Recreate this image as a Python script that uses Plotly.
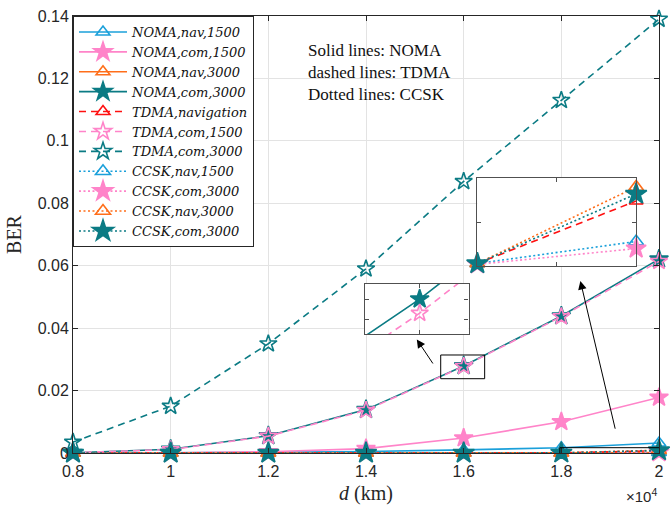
import plotly.graph_objects as go

# distance samples (km) and the axis scale factor shown as x10^4
d_km = [8000, 10000, 12000, 14000, 16000, 18000, 20000]
x_scale = 1e4
x_ticks = [0.8, 1.0, 1.2, 1.4, 1.6, 1.8, 2.0]
x_ticktext = ["0.8", "1", "1.2", "1.4", "1.6", "1.8", "2"]
y_ticks = [0, 0.02, 0.04, 0.06, 0.08, 0.1, 0.12, 0.14]
y_ticktext = ["0", "0.02", "0.04", "0.06", "0.08", "0.1", "0.12", "0.14"]

# BER per scheme
noma_nav_1500 = [0.0, 0.0001, 0.0002, 0.0005, 0.0010, 0.0017, 0.0032]
noma_com_1500 = [0.0, 0.0001, 0.0004, 0.0014, 0.0048, 0.0100, 0.0178]
noma_nav_3000 = [0.0, 0.0, 0.0, 0.00002, 0.00004, 0.00008, 0.00015]
noma_com_3000 = [0.0001, 0.0012, 0.0055, 0.0139, 0.0279, 0.0439, 0.0621]
tdma_nav = [0.0, 0.0, 0.0, 0.0, 0.00001, 0.00003, 0.00074]
tdma_com_1500 = [0.0001, 0.0011, 0.0054, 0.0137, 0.02776, 0.0437, 0.0614]
tdma_com_3000 = [0.0035, 0.0150, 0.0350, 0.0590, 0.0870, 0.1130, 0.1390]
ccsk_nav_1500 = [0.0, 0.0, 0.0, 0.0, 0.00001, 0.00003, 0.00028]
ccsk_com_1500 = [0.0, 0.0, 0.0, 0.0, 0.00001, 0.00002, 0.00020]
ccsk_nav_3000 = [0.0, 0.0, 0.0, 0.0, 0.00001, 0.00003, 0.00090]
ccsk_com_3000 = [0.0, 0.0, 0.0, 0.0, 0.00001, 0.00003, 0.00082]

x = [v / x_scale for v in d_km]

BLUE = "#1ba0da"
PINK = "#ff84c9"
ORANGE = "#ff6e1a"
TEAL = "#0b7b84"
RED = "#ff1010"

DASH = "7px,5px"
DOT = "2px,2.5px"

# key, legend label, values, colour, dash, symbol, marker size
series = [
    ("noma_nav_1500", "NOMA,nav,1500", noma_nav_1500, BLUE, "solid", "triangle-up-open", 12),
    ("noma_com_1500", "NOMA,com,1500", noma_com_1500, PINK, "solid", "star", 14),
    ("noma_nav_3000", "NOMA,nav,3000", noma_nav_3000, ORANGE, "solid", "triangle-up-open", 12),
    ("noma_com_3000", "NOMA,com,3000", noma_com_3000, TEAL, "solid", "star", 14),
    ("tdma_nav", "TDMA,navigation", tdma_nav, RED, DASH, "triangle-up-open", 12),
    ("tdma_com_1500", "TDMA,com,1500", tdma_com_1500, PINK, DASH, "star-open", 13),
    ("tdma_com_3000", "TDMA,com,3000", tdma_com_3000, TEAL, DASH, "star-open", 13),
    ("ccsk_nav_1500", "CCSK,nav,1500", ccsk_nav_1500, BLUE, DOT, "triangle-up-open", 13),
    ("ccsk_com_1500", "CCSK,com,3000", ccsk_com_1500, PINK, DOT, "star", 15),
    ("ccsk_nav_3000", "CCSK,nav,3000", ccsk_nav_3000, ORANGE, DOT, "triangle-up-open", 13),
    ("ccsk_com_3000", "CCSK,com,3000", ccsk_com_3000, TEAL, DOT, "star", 16),
]

# which series appear in each magnified view
inset_nav_keys = ["tdma_nav", "ccsk_nav_1500", "ccsk_com_1500", "ccsk_nav_3000", "ccsk_com_3000"]
inset_com_keys = ["noma_com_3000", "tdma_com_1500"]

fig = go.Figure()


def add_series(label, vals, color, dash, symbol, size, xa="x", ya="y", legend=True):
    fig.add_trace(go.Scatter(
        x=x, y=vals, mode="lines+markers",
        name="<i>" + label + "</i>",
        xaxis=xa, yaxis=ya, showlegend=legend, cliponaxis=False,
        line=dict(color=color, width=1.6, dash=dash, simplify=False),
        marker=dict(symbol=symbol, size=size, color=color,
                    line=dict(color=color, width=1.6)),
        hoverinfo="skip",
    ))


for key, *spec in series:
    add_series(*spec)
for key, *spec in series:
    if key in inset_nav_keys:
        add_series(*spec, xa="x2", ya="y2", legend=False)
for key, *spec in series:
    if key in inset_com_keys:
        add_series(*spec, xa="x3", ya="y3", legend=False)

AX = "#262626"
FRAME = "#505050"
tick_font = dict(family="Liberation Sans, Arial, sans-serif", size=16, color=AX)
inset_axis = dict(showticklabels=False, ticks="inside", ticklen=4, tickcolor=FRAME,
                  showline=True, linecolor=FRAME, linewidth=1.3, mirror="ticks",
                  showgrid=False, zeroline=False)

fig.update_layout(
    width=672, height=508,
    margin=dict(l=73, r=8, t=14, b=52),
    paper_bgcolor="white", plot_bgcolor="white",
    font=dict(family="Liberation Sans, Arial, sans-serif", color=AX),
    xaxis=dict(
        range=[0.8, 2.0], tickvals=x_ticks, ticktext=x_ticktext,
        ticks="inside", ticklen=5, tickcolor=AX, showline=True, linecolor=AX,
        linewidth=1, mirror="ticks", showgrid=True, gridcolor="#e3e3e3",
        zeroline=False, tickfont=tick_font, ticklabelstandoff=4,
        title=dict(text="<i>d</i> (km)", standoff=6,
                   font=dict(family="Liberation Serif, Times New Roman, serif", size=20, color=AX)),
    ),
    yaxis=dict(
        range=[0, 0.14], tickvals=y_ticks, ticktext=y_ticktext,
        ticks="inside", ticklen=5, tickcolor=AX, showline=True, linecolor=AX,
        linewidth=1, mirror="ticks", showgrid=True, gridcolor="#e3e3e3",
        zeroline=False, tickfont=tick_font,
        title=dict(text="BER", standoff=10,
                   font=dict(family="Liberation Serif, Times New Roman, serif", size=20, color=AX)),
    ),
    xaxis2=dict(domain=[0.690, 0.961], anchor="y2", range=[1.8, 2.0],
                tickvals=[1.9], **inset_axis),
    yaxis2=dict(domain=[0.4276, 0.629], anchor="x2", range=[0, 0.001],
                tickvals=[0.0005], **inset_axis),
    xaxis3=dict(domain=[0.4975, 0.675], anchor="y3", range=[1.5947, 1.6047],
                tickvals=[1.6], **{**inset_axis, "showgrid": True, "gridcolor": "#e3e3e3"}),
    yaxis3=dict(domain=[0.2715, 0.3869], anchor="x3", range=[0.02755, 0.02805],
                tickvals=[0.0277, 0.0279], **inset_axis),
    legend=dict(
        x=0, y=1, xanchor="left", yanchor="top",
        bgcolor="white", bordercolor=AX, borderwidth=1,
        font=dict(family="DejaVu Serif, serif", size=13, color="#111"),
        itemwidth=48, tracegroupgap=0,
    ),
    showlegend=True,
)

# white backgrounds behind the magnified views
for xr, yr in (("x2", "y2"), ("x3", "y3")):
    fig.add_shape(type="rect", xref=xr + " domain", yref=yr + " domain",
                  x0=0, x1=1, y0=0, y1=1, layer="below",
                  fillcolor="white", line=dict(width=0))

# source regions of the magnified views
fig.add_shape(type="rect", xref="x", yref="y", x0=1.797, x1=2.004, y0=-0.0002, y1=0.0017,
              line=dict(color="black", width=1))
fig.add_shape(type="rect", xref="x", yref="y", x0=1.553, x1=1.643, y0=0.0238, y1=0.0314,
              line=dict(color="black", width=1))

# arrows pointing to the magnified views
for hx, hy, tx, ty in ((1.839, 0.0551, 1.911, 0.0073), (1.504, 0.0364, 1.539, 0.0282)):
    fig.add_annotation(x=hx, y=hy, ax=tx, ay=ty, xref="x", yref="y", axref="x", ayref="y",
                       text="", showarrow=True, arrowhead=2, arrowsize=1.7, arrowwidth=1,
                       arrowcolor="black")

fig.add_annotation(
    xref="paper", yref="paper", x=0.398, y=0.948, xanchor="left", yanchor="top",
    align="left", showarrow=False,
    text="Solid lines: NOMA<br>dashed lines: TDMA<br>Dotted lines: CCSK",
    font=dict(family="Liberation Serif, Times New Roman, serif", size=17, color="#111"),
)

fig.add_annotation(
    xref="paper", yref="paper", x=1.0, y=-0.0973, xanchor="right", yanchor="middle",
    showarrow=False, text="×10<sup>4</sup>",
    font=dict(family="Liberation Sans, Arial, sans-serif", size=15, color=AX),
)

fig.write_html("out.html")
